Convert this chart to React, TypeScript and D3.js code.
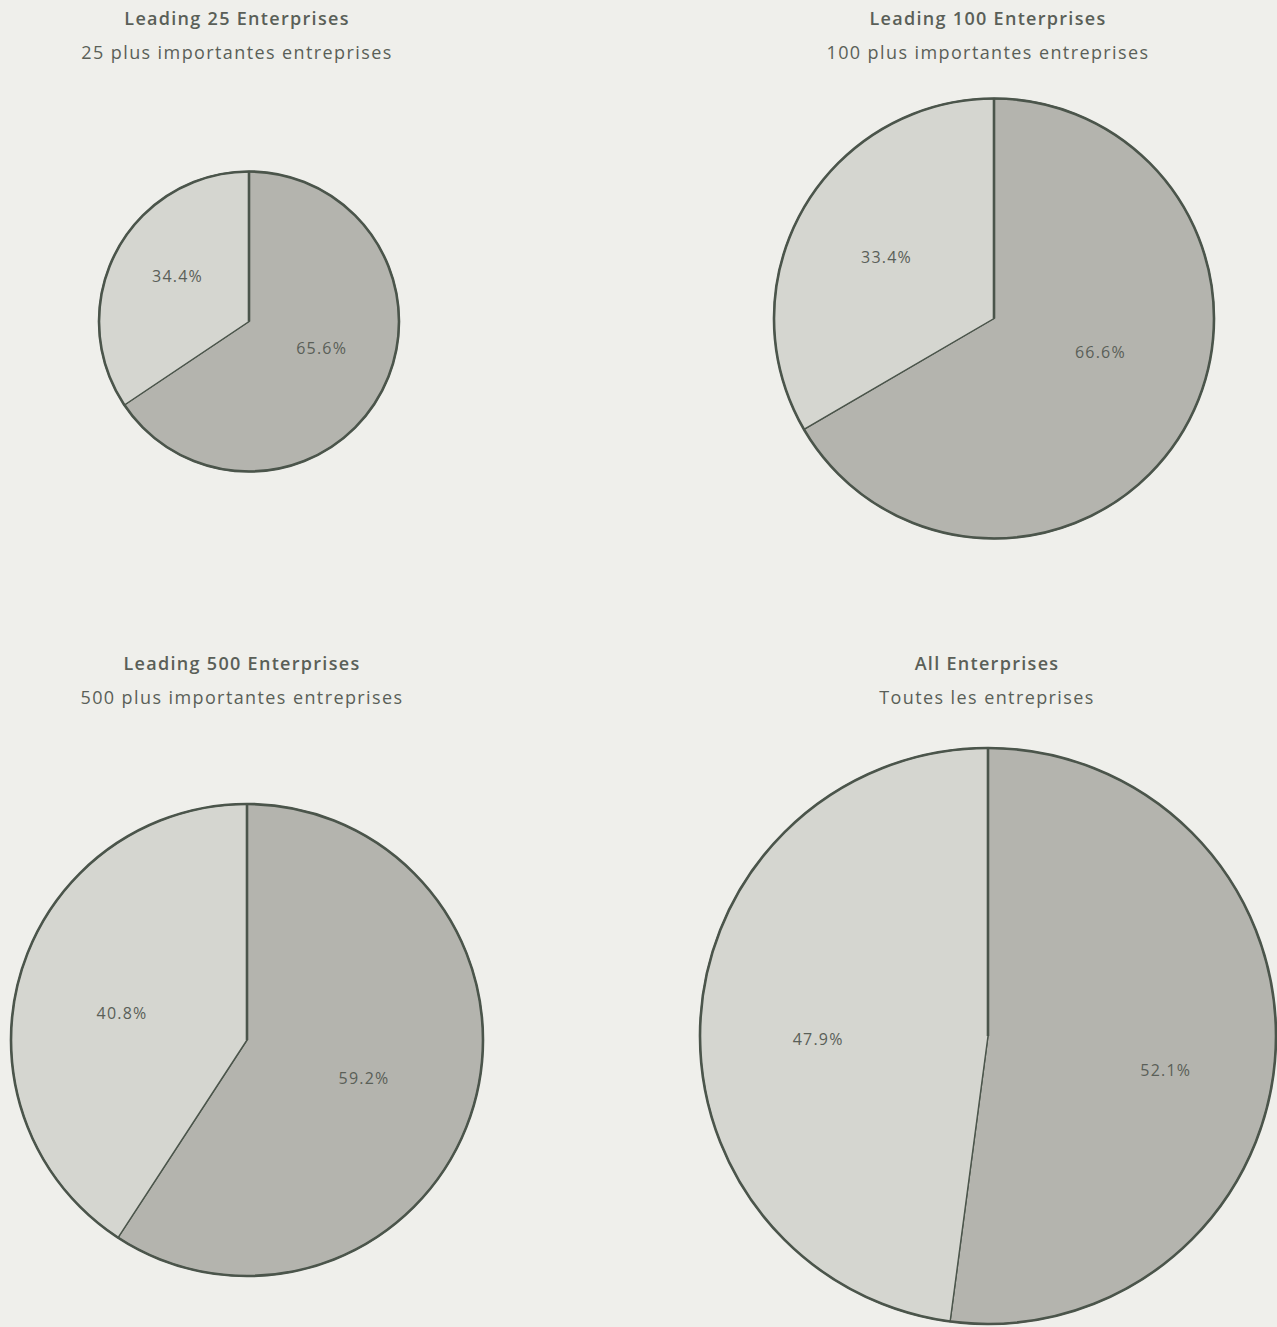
import React from "react";
import * as d3 from "d3";

const titlesEn = ["Leading 25 Enterprises", "Leading 100 Enterprises", "Leading 500 Enterprises", "All Enterprises"];
const titlesFr = ["25 plus importantes entreprises", "100 plus importantes entreprises", "500 plus importantes entreprises", "Toutes les entreprises"];
const darkShare = [65.6, 66.6, 59.2, 52.1];
const lightShare = [34.4, 33.4, 40.8, 47.9];

const W = 1277;
const H = 1327;

// layout: pie centre/radius, title anchor, label placement (angle offset from slice middle in degrees, radius fraction)
const layout = [
  { cx: 249, cy: 321.5, r: 150, tx: 237, ty: 20, lab: [{ rot: -6.8, k: 0.52 }, { rot: 3.6, k: 0.56 }] },
  { cx: 994, cy: 318.5, r: 220, tx: 988, ty: 20, lab: [{ rot: -11.4, k: 0.51 }, { rot: -0.6, k: 0.56 }] },
  { cx: 247, cy: 1040, r: 236, tx: 242, ty: 665, lab: [{ rot: 2.3, k: 0.524 }, { rot: -5.3, k: 0.54 }] },
  { cx: 988, cy: 1036, r: 288, tx: 987, ty: 665, lab: [{ rot: 7.7, k: 0.63 }, { rot: -5.5, k: 0.59 }] },
];

const fills = ["#b4b4ae", "#d5d6d0"];
const strokeCol = "#4b554b";
const textCol = "#5a5f58";

export default function App() {
  const pie = d3.pie<number>().sort(null).value((d) => d);
  return (
    <svg width={W} height={H} style={{ position: "absolute", left: 0, top: 0, background: "#efefeb" }}
      fontFamily="'Open Sans', 'Noto Sans', sans-serif">
      <rect x={0} y={0} width={W} height={H} fill="#efefeb" />
      {layout.map((L, i) => {
        const data = [darkShare[i], lightShare[i]];
        const arcs = pie(data);
        const arc = d3.arc<d3.PieArcDatum<number>>().innerRadius(0).outerRadius(L.r);
        return (
          <g key={i}>
            <text x={L.tx} y={L.ty} textAnchor="middle" dominantBaseline="middle" fontSize={18} letterSpacing={1.3} fontWeight={600} fill={textCol}>{titlesEn[i]}</text>
            <text x={L.tx} y={L.ty + 34} textAnchor="middle" dominantBaseline="middle" fontSize={18} letterSpacing={1.4} fontWeight={500} fill={textCol}>{titlesFr[i]}</text>
            <g transform={`translate(${L.cx},${L.cy})`}>
              {arcs.map((a, j) => (
                <path key={j} d={arc(a) || ""} fill={fills[j]} stroke={strokeCol} strokeWidth={1.4} strokeLinejoin="round" />
              ))}
              <circle r={L.r} fill="none" stroke={strokeCol} strokeWidth={2.6} />
              <line x1={0} y1={0} x2={0} y2={-L.r} stroke={strokeCol} strokeWidth={2.6} />
              {arcs.map((a, j) => {
                const ang = (a.startAngle + a.endAngle) / 2 + (L.lab[j].rot * Math.PI) / 180;
                const [x, y] = d3.pointRadial(ang, L.r * L.lab[j].k);
                return (
                  <text key={"t" + j} x={x} y={y} textAnchor="middle" dominantBaseline="middle" fontSize={16} letterSpacing={1.2} fill={textCol}>
                    {d3.format(".1f")(a.data)}%
                  </text>
                );
              })}
            </g>
          </g>
        );
      })}
    </svg>
  );
}
